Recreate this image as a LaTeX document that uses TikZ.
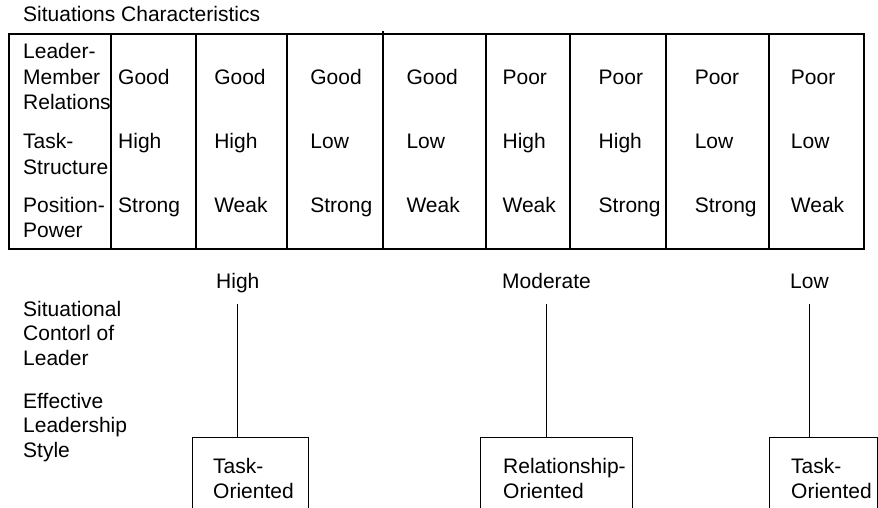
\documentclass[tikz,border=0pt]{standalone}
\usepackage{fontspec}
\setmainfont{Liberation Sans}
\newcommand\figfont{\fontsize{21}{25.5}\selectfont}
\newcommand\figfontb{\fontsize{21}{24.5}\selectfont}
\newcommand\stack[1]{\begin{tabular}[t]{@{}l@{}}#1\end{tabular}}
\begin{document}
\begin{tikzpicture}[x=1pt,y=-1pt,
  txt/.style={anchor=base west, inner sep=0pt, font=\figfont},
  txtb/.style={txt, font=\figfontb},
  frame/.style={draw, line width=1.1pt},
  stylebox/.style={draw, line width=1.1pt, anchor=north west, inner sep=0pt, minimum height=100pt},
  link/.style={draw, line width=1.1pt}]
\useasboundingbox (0,0) rectangle (878,508);

% heading and table frame
\node[txt] (title) at (23,22) {Situations Characteristics};
\draw[frame] (9,34) rectangle (864,249);
\foreach \x in {111,196,287,486,570,666,769} \draw[frame] (\x,34) -- (\x,249);
\draw[frame] (383,31) -- (383,249);

% row headings
\node[txt] (lmr) at (23,59) {\stack{Leader-\\Member\\Relations}};
\node[txt] (ts) at (23,149) {\stack{Task-\\Structure}};
\node[txt] (pp) at (23,212) {\stack{Position-\\Power}};

% table entries
\foreach \v [count=\i] in {Good,Good,Good,Good,Poor,Poor,Poor,Poor}
  \node[txt] (ra\i) at ({118+96.1*(\i-1)},85) {\v};
\foreach \v [count=\i] in {High,High,Low,Low,High,High,Low,Low}
  \node[txt] (rb\i) at ({118+96.1*(\i-1)},149) {\v};
\foreach \v [count=\i] in {Strong,Weak,Strong,Weak,Weak,Strong,Strong,Weak}
  \node[txt] (rc\i) at ({118+96.1*(\i-1)},212) {\v};

% lower part
\node[txtb] (sc) at (23,316) {\stack{Situational\\Contorl of\\Leader}};
\node[txtb] (els) at (23,408) {\stack{Effective\\Leadership\\Style}};

\node[txt] (hi) at (216,288) {High};
\node[txt] (mod) at (502,288) {Moderate};
\node[txt] (lo) at (790,288) {Low};

\node[stylebox, minimum width=116pt] (b1) at (192,437) {};
\node[stylebox, minimum width=152pt] (b2) at (480,437) {};
\node[stylebox, minimum width=108pt] (b3) at (769,437) {};

\node[txt] (o1) at ([shift={(21pt,-36pt)}]b1.north west) {\stack{Task-\\Oriented}};
\node[txt] (o2) at ([shift={(23pt,-36pt)}]b2.north west) {\stack{Relationship-\\Oriented}};
\node[txt] (o3) at ([shift={(22pt,-36pt)}]b3.north west) {\stack{Task-\\Oriented}};

\draw[link] ([yshift=-16pt]hi.base) -- (hi.base |- b1.north);
\draw[link] ([yshift=-16pt]mod.base) -- (mod.base |- b2.north);
\draw[link] ([yshift=-16pt]lo.base) -- (lo.base |- b3.north);
\end{tikzpicture}
\end{document}
